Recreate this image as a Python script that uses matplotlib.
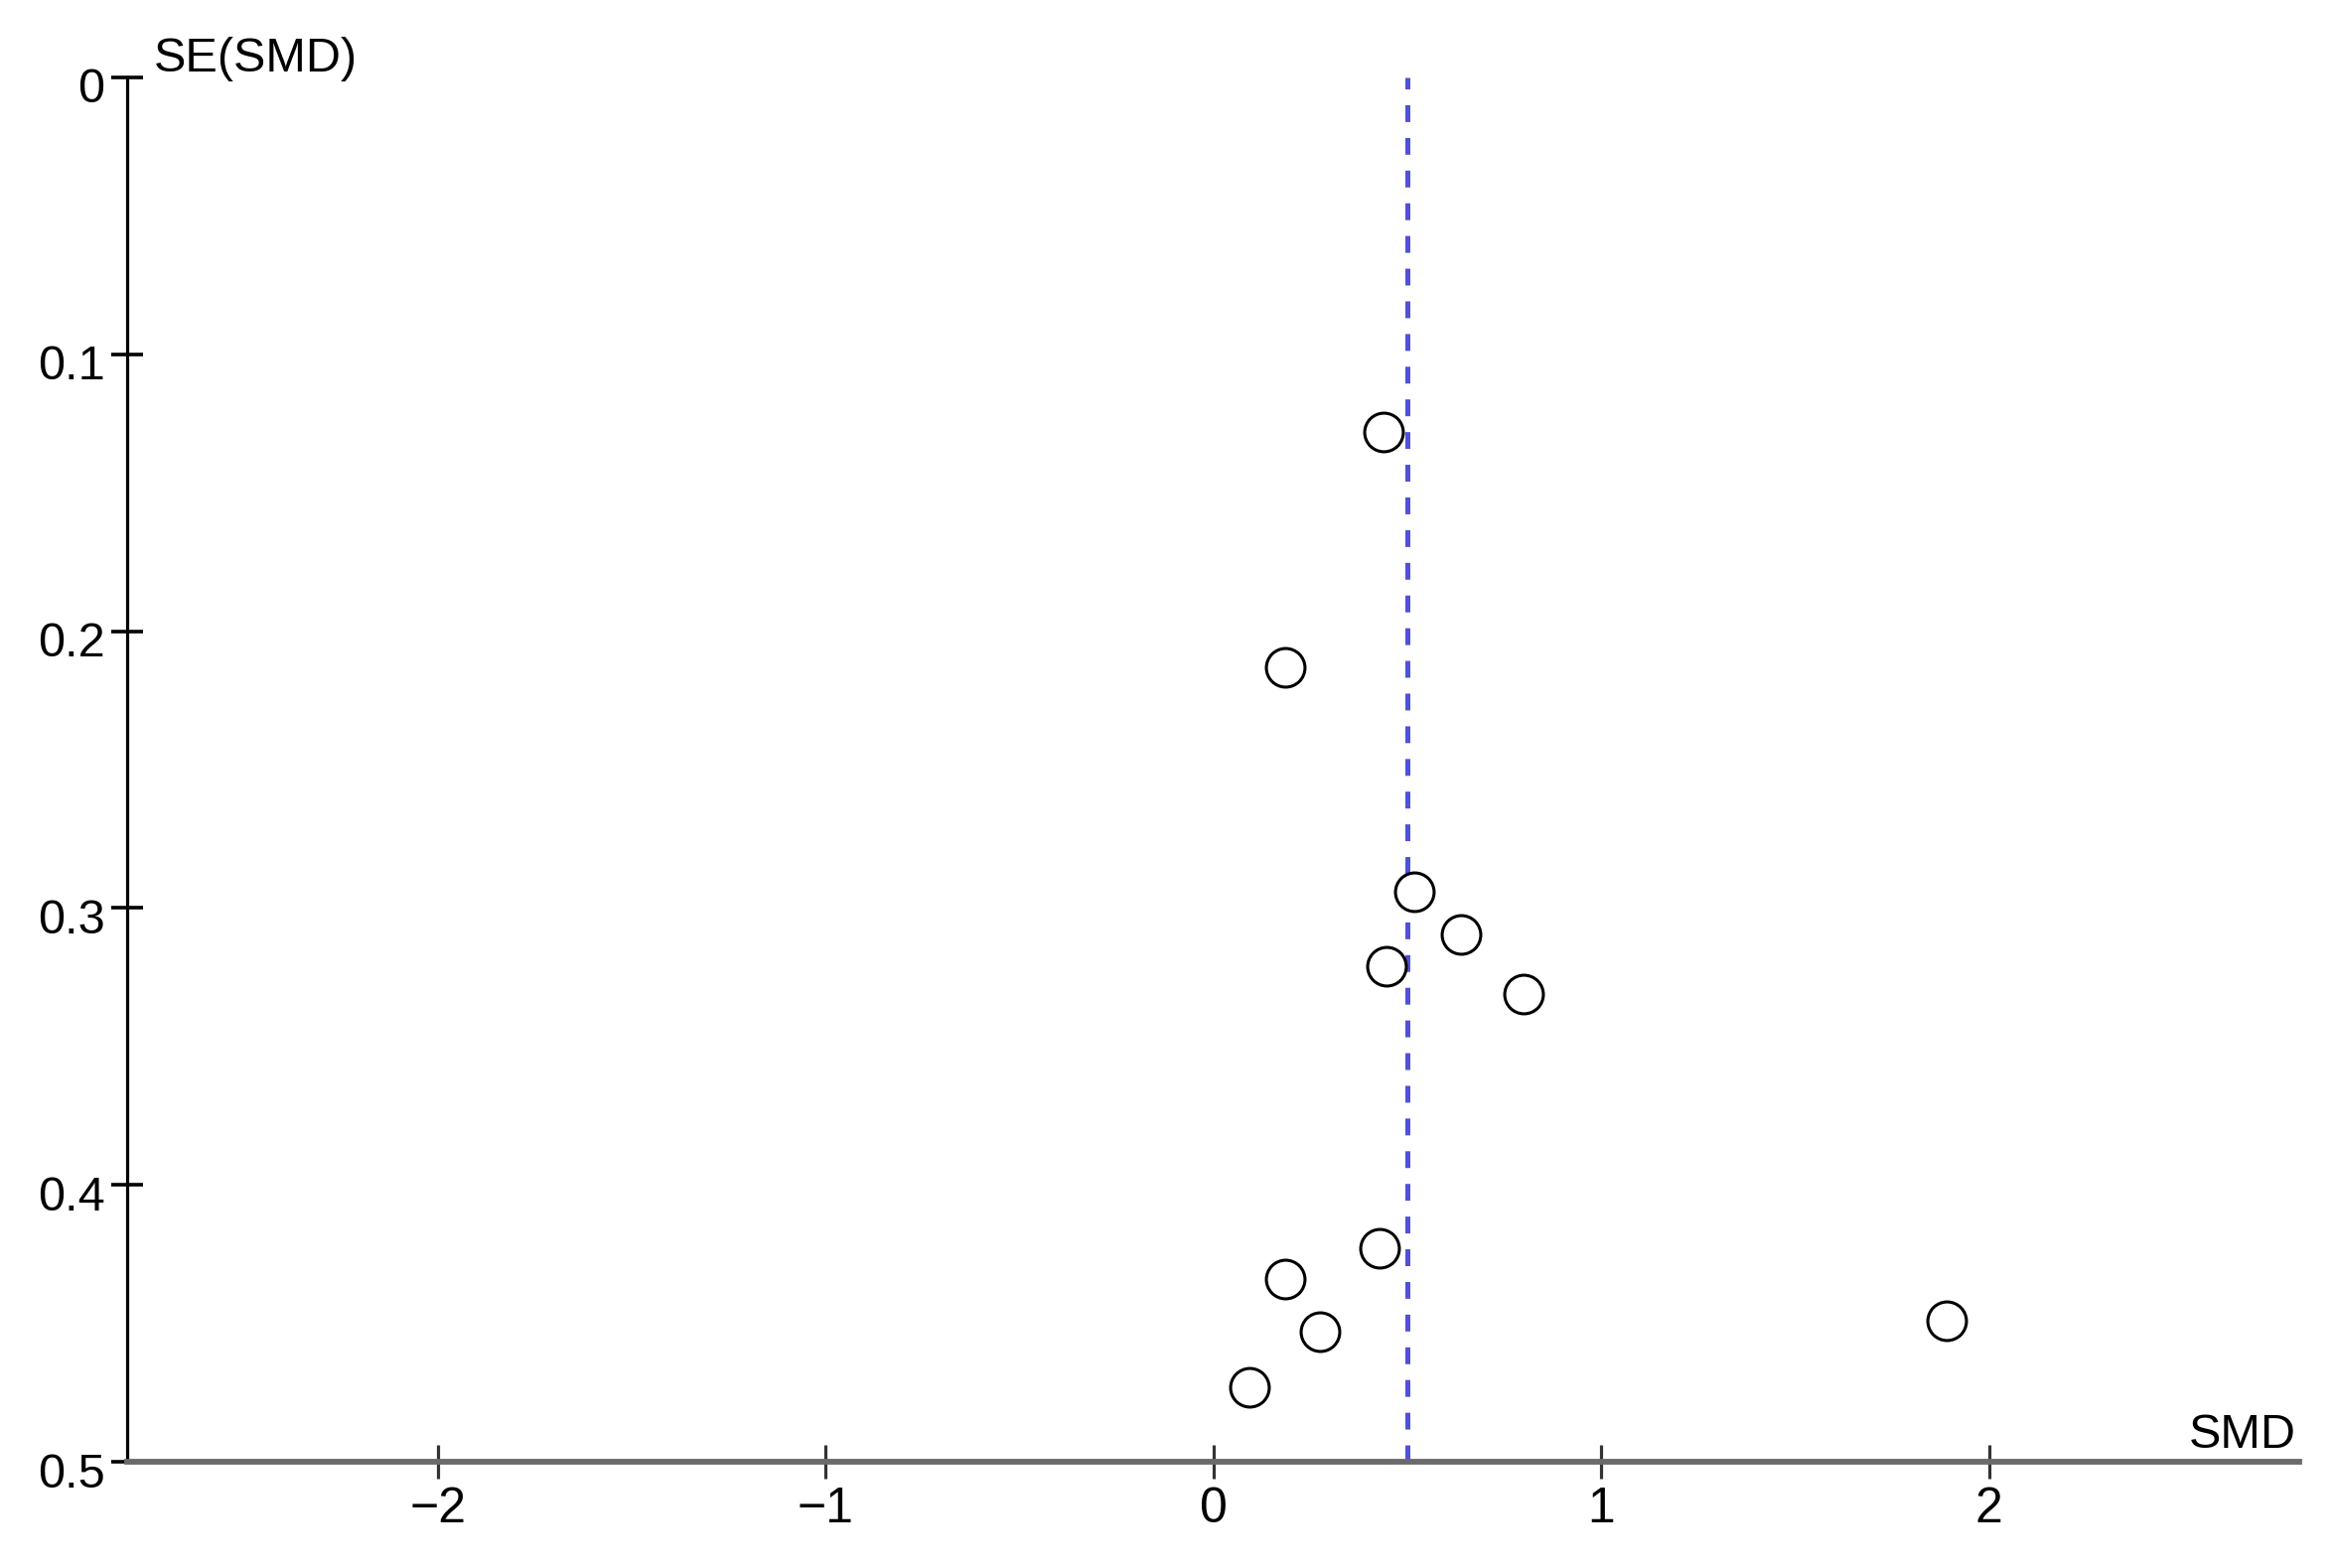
import matplotlib
matplotlib.use("Agg")
import matplotlib.pyplot as plt
import matplotlib.transforms as mtransforms

# Data
smd = [0.438, 0.185, 0.519, 0.639, 0.447, 0.801, 0.428, 0.185, 0.276, 0.093, 1.890]
se_smd = [0.128, 0.213, 0.294, 0.3095, 0.321, 0.331, 0.423, 0.434, 0.453, 0.473, 0.449]
pooled_smd = 0.5
x_ticks = [-2, -1, 0, 1, 2]
x_tick_labels = ["\u22122", "\u22121", "0", "1", "2"]
y_ticks = [0, 0.1, 0.2, 0.3, 0.4, 0.5]
y_tick_labels = ["0", "0.1", "0.2", "0.3", "0.4", "0.5"]

plt.rcParams['font.family'] = ['Liberation Sans', 'DejaVu Sans']
plt.rcParams['lines.scale_dashes'] = False

W, H, DPI = 2350, 1579, 100
fig = plt.figure(figsize=(W / DPI, H / DPI), dpi=DPI)
ax = fig.add_axes([128.3 / W, 1 - 1472.2 / H, (2315 - 128.3) / W, (1472.2 - 77.8) / H])

ax.set_xlim(-2.8, 2.8)
ax.set_ylim(0.5, 0)

ax.axvline(pooled_smd, ymin=0, ymax=1, color='#5050dc', lw=3.6,
           dashes=(12.2, 11.5), zorder=1)

ax.plot(smd, se_smd, linestyle='none', marker='o', markersize=28,
        markerfacecolor='white', markeredgecolor='black', markeredgewidth=2.2, zorder=3)

for s in ['top', 'right']:
    ax.spines[s].set_visible(False)
ax.spines['left'].set_color('black')
ax.spines['left'].set_linewidth(2.3)
ax.spines['bottom'].set_color('#6a6a6a')
ax.spines['bottom'].set_linewidth(4.2)

ax.set_xticks(x_ticks)
ax.set_xticklabels(x_tick_labels)
ax.set_yticks(y_ticks)
ax.set_yticklabels(y_tick_labels)

ax.tick_params(axis='x', direction='inout', length=25, width=2.3, color='#333333',
               labelsize=36, pad=5, labelcolor='black')
ax.tick_params(axis='y', direction='inout', length=23, width=2.6, color='black',
               labelsize=35, pad=5, labelcolor='black')

shift = mtransforms.ScaledTranslation(0, -8 / DPI, fig.dpi_scale_trans)
for lbl in ax.get_yticklabels():
    lbl.set_transform(lbl.get_transform() + shift)

fig.text(155 / W, 1 - 72 / H, 'SE(SMD)', ha='left', va='baseline', fontsize=35)
fig.text(2312 / W, 1 - 1458 / H, 'SMD', ha='right', va='baseline', fontsize=35)

fig.savefig('out.png', dpi=DPI)
